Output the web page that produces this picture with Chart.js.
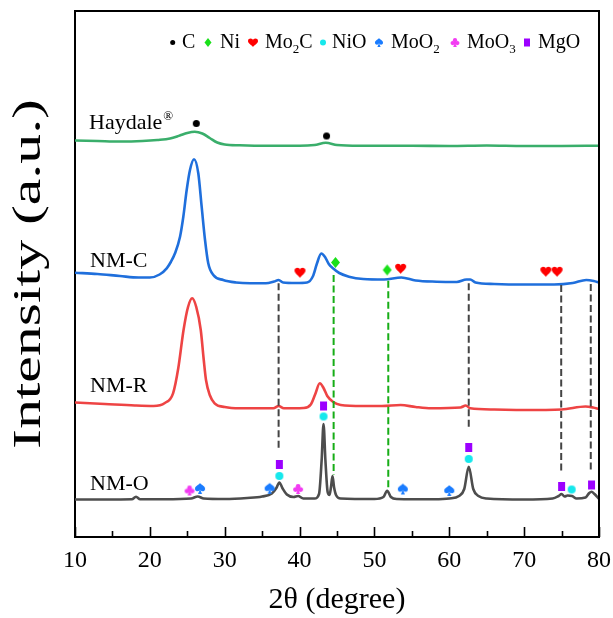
<!DOCTYPE html>
<html><head><meta charset="utf-8">
<script src="https://cdn.jsdelivr.net/npm/chart.js@4.4.1/dist/chart.umd.min.js"></script>
<style>html,body{margin:0;padding:0;background:#fff;}canvas{display:block;}</style>
</head><body>
<canvas id="c" width="613" height="618"></canvas>
<script>
// ---------- data (2θ in degrees, intensity in a.u., curves offset) ----------
const xTickValues = [10, 20, 30, 40, 50, 60, 70, 80];

const haydaleTheta = [10, 13, 16, 19, 21, 22.7, 24, 25, 26, 27, 28, 29, 30, 32, 36, 40, 42, 43.5, 45, 48, 55, 60, 65, 70, 75, 80];
const haydaleInt   = [396.5, 396, 395.5, 396, 397, 398.5, 401.5, 404, 405.2, 403.5, 399, 394.5, 392.5, 391.7, 391.2, 391.2, 392, 394.2, 392, 391.2, 391.2, 391, 391.5, 391, 391, 391.3];

const nmcTheta = [10, 13, 16, 18.5, 20, 21.3, 22.25, 22.8, 23.36, 24.03, 24.47, 24.92, 25.36, 25.9, 26.47, 26.92, 27.37, 27.8, 28.48, 29.8, 31.5, 33.4, 35.5, 36.6, 37.2, 37.8, 39.5, 41, 41.8, 42.3, 42.9, 43.4, 43.9, 44.5, 45.3, 46.6, 48.5, 51.3, 53.6, 55.5, 58.3, 61, 62.3, 62.8, 63.5, 66, 70, 74, 76.5, 78.3, 79.3, 80];
const nmcInt   = [264.3, 263, 261, 259.5, 259.5, 262.5, 268.7, 275, 283.7, 300.3, 320.3, 347, 367, 377.7, 363.7, 330.3, 297, 273.7, 262, 257, 254.5, 253.7, 253.7, 255.5, 257, 254.5, 254, 254.5, 261, 273, 283.5, 280, 273, 268.5, 264, 260.3, 258, 257.5, 259.5, 256.5, 255.3, 255, 257.5, 257.5, 254.5, 253, 252.5, 252.5, 254, 257, 256, 254.5];

const nmrTheta = [10, 14, 18, 20.5, 22, 23.1, 23.8, 24.5, 25.1, 25.65, 26.2, 26.8, 27.2, 27.5, 28, 28.65, 30, 32, 36.5, 37.2, 37.9, 40.5, 41.5, 42.1, 42.7, 43.2, 43.7, 44.5, 45.5, 48.4, 51, 53.5, 55.5, 57.6, 61.5, 62.2, 62.8, 66, 70, 75, 78.2, 79.2, 80];
const nmrInt   = [134.5, 133, 131.5, 131, 134, 143.7, 169, 207, 230, 238.7, 230, 207, 177, 157, 142, 133.7, 130, 128.7, 128.7, 131, 128.7, 129, 132.5, 143, 153.7, 149, 141, 135, 132, 131, 131, 132, 130, 128.7, 129.5, 131.5, 128.7, 127.5, 127, 127.5, 130.5, 129.5, 128];

const nmoTheta = [10, 14, 17.6, 18.15, 18.7, 22, 25.5, 26.4, 27.2, 30, 33, 35, 36.3, 36.9, 37.3, 37.7, 38.3, 39.2, 39.8, 40.5, 42, 42.6, 42.95, 43.2, 43.45, 43.75, 44.0, 44.2, 44.4, 44.6, 44.9, 45.5, 50, 51.2, 51.7, 52.2, 53, 58, 60, 61.3, 62.0, 62.6, 63.2, 63.9, 65, 70, 73.8, 74.6, 75.0, 75.4, 75.8, 76.4, 77, 78.2, 78.7, 79.0, 79.4, 80];
const nmoInt   = [37.5, 37.5, 37.7, 40.3, 37.7, 37.7, 38.5, 40.5, 38.5, 38, 39, 40.5, 43.5, 49, 54.5, 49, 42.5, 40, 41, 38.5, 38.5, 43, 77, 113, 77, 45, 42, 50, 61, 50, 41.5, 38.5, 38, 40, 46.3, 40, 38, 37.7, 38.5, 41, 48, 70.3, 48, 41, 38.5, 37.5, 38.5, 41, 43, 40.5, 41.5, 41, 38.5, 39.5, 44, 45.3, 43, 38];

// phase markers
const cTheta    = [26.2, 43.6];                   const cInt    = [413.5, 401];
const niTheta   = [44.8, 51.7];                   const niInt   = [274.5, 267];
const mo2cTheta = [40.05, 53.5, 72.9, 74.4];      const mo2cInt = [264.5, 268.5, 265.5, 265.5];
const nioTheta  = [37.3, 43.2, 62.6, 76.35];      const nioInt  = [61, 120.5, 78, 47.5];
const moo2Theta = [26.7, 36.0, 53.8, 60.0];       const moo2Int = [48.5, 48.7, 48, 46.5];
const moo3Theta = [25.3, 39.8];                   const moo3Int = [46.5, 48];
const mgoTheta  = [37.3, 43.2, 62.6, 75.0, 79.0]; const mgoInt  = [72.5, 131, 89.5, 50.5, 52];

// reference (dashed) lines
const dashTheta  = [37.2, 62.6, 74.95, 78.9];
const dashTop    = [253.7, 253.7, 252, 253];
const dashBottom = [87, 110.3, 65.3, 65.3];
const niDashTheta  = [44.55, 51.85];
const niDashTop    = [262, 256.3];
const niDashBottom = [62, 47.7];

const curveLabels = ['Haydale', 'NM-C', 'NM-R', 'NM-O'];
const legendNames = [['C',''], ['Ni',''], ['Mo','2','C'], ['NiO',''], ['MoO','2'], ['MoO','3'], ['MgO','']];
const xTitle = '2θ (degree)';
const yTitle = 'Intensity (a.u.)';

// ---------- styling ----------
const SERIF = 'Liberation Serif, Times New Roman, serif';
const COL = { hay:'#3aae6b', nmc:'#1f6fdc', nmr:'#ee4444', nmo:'#4d4d4d',
  C:'#000000', Ni:'#19e019', Mo2C:'#ff0000', NiO:'#16e8ec', MoO2:'#1a7cff', MoO3:'#f23cf2', MgO:'#9c00ff',
  dash:'#444444', niDash:'#16ad16' };

function drawShape(g, kind, cx, cy, w, h) {
  const x = cx, y = cy - h / 2;
  if (kind === 'circle') { g.beginPath(); g.arc(cx, cy, Math.min(w, h) / 2, 0, 2 * Math.PI); g.fill(); }
  else if (kind === 'square') { g.fillRect(cx - w / 2, cy - h / 2, w, h); }
  else if (kind === 'diamond') { g.beginPath(); g.moveTo(cx, cy - h / 2); g.lineTo(cx + w / 2, cy); g.lineTo(cx, cy + h / 2); g.lineTo(cx - w / 2, cy); g.closePath(); g.fill(); }
  else if (kind === 'heart') {
    g.beginPath();
    g.moveTo(x, y + h * 0.28);
    g.bezierCurveTo(x, y - h * 0.02, x - w / 2, y - h * 0.02, x - w / 2, y + h * 0.32);
    g.bezierCurveTo(x - w / 2, y + h * 0.6, x - w * 0.12, y + h * 0.76, x, y + h);
    g.bezierCurveTo(x + w * 0.12, y + h * 0.76, x + w / 2, y + h * 0.6, x + w / 2, y + h * 0.32);
    g.bezierCurveTo(x + w / 2, y - h * 0.02, x, y - h * 0.02, x, y + h * 0.28);
    g.closePath(); g.fill();
  } else if (kind === 'spade') {
    const bh = h * 0.78;
    g.beginPath();
    g.moveTo(x, y);
    g.bezierCurveTo(x + w * 0.05, y + bh * 0.18, x + w * 0.56, y + bh * 0.35, x + w * 0.5, y + bh * 0.72);
    g.bezierCurveTo(x + w * 0.46, y + bh * 1.05, x + w * 0.06, y + bh * 1.02, x, y + bh * 0.76);
    g.bezierCurveTo(x - w * 0.06, y + bh * 1.02, x - w * 0.46, y + bh * 1.05, x - w * 0.5, y + bh * 0.72);
    g.bezierCurveTo(x - w * 0.56, y + bh * 0.35, x - w * 0.05, y + bh * 0.18, x, y);
    g.closePath(); g.fill();
    g.beginPath(); g.moveTo(x, y + bh * 0.7); g.lineTo(x + w * 0.2, y + h); g.lineTo(x - w * 0.2, y + h); g.closePath(); g.fill();
  } else if (kind === 'club') {
    const r = w * 0.24;
    [[x, y + r], [x - w / 2 + r, y + h * 0.56], [x + w / 2 - r, y + h * 0.56]].forEach(([px, py]) => {
      g.beginPath(); g.arc(px, py, r, 0, 2 * Math.PI); g.fill();
    });
    g.beginPath(); g.arc(x, y + h * 0.5, r * 0.7, 0, 2 * Math.PI); g.fill();
    g.beginPath(); g.moveTo(x, y + h * 0.45); g.lineTo(x + w * 0.2, y + h); g.lineTo(x - w * 0.2, y + h); g.closePath(); g.fill();
  }
}
function glyph(kind, color, w, h) {
  const c = document.createElement('canvas');
  c.width = w + 2; c.height = h + 2;
  const g = c.getContext('2d');
  g.fillStyle = color;
  drawShape(g, kind, (w + 2) / 2, (h + 2) / 2, w, h);
  return c;
}

const pts = (xs, ys) => xs.map((x, i) => ({ x, y: ys[i] }));
function curve(xs, ys, color) {
  return { data: pts(xs, ys), borderColor: color, borderWidth: 2.6, pointRadius: 0, fill: false,
    cubicInterpolationMode: 'monotone', order: 3 };
}
function markers(xs, ys, img) {
  return { data: pts(xs, ys), showLine: false, pointStyle: img, pointRadius: 5, order: 0 };
}
function vline(x, top, bottom, color) {
  return { data: [{ x, y: top }, { x, y: bottom }], borderColor: color, borderWidth: 2, borderDash: [7, 3.5],
    pointRadius: 0, fill: false, order: 1 };
}

const datasets = [
  curve(haydaleTheta, haydaleInt, COL.hay),
  curve(nmcTheta, nmcInt, COL.nmc),
  curve(nmrTheta, nmrInt, COL.nmr),
  curve(nmoTheta, nmoInt, COL.nmo),
];
dashTheta.forEach((t, i) => datasets.push(vline(t, dashTop[i], dashBottom[i], COL.dash)));
niDashTheta.forEach((t, i) => datasets.push(vline(t, niDashTop[i], niDashBottom[i], COL.niDash)));
datasets.push(markers(cTheta, cInt, glyph('circle', COL.C, 7, 7)));
datasets.push(markers(niTheta, niInt, glyph('diamond', COL.Ni, 9, 11)));
datasets.push(markers(mo2cTheta, mo2cInt, glyph('heart', COL.Mo2C, 11, 11)));
datasets.push(markers(mgoTheta, mgoInt, glyph('square', COL.MgO, 7, 9)));
datasets.push(markers(nioTheta, nioInt, glyph('circle', COL.NiO, 8, 8)));
datasets.push(markers(moo2Theta, moo2Int, glyph('spade', COL.MoO2, 10, 11)));
datasets.push(markers(moo3Theta, moo3Int, glyph('club', COL.MoO3, 10, 10)));

const decor = {
  id: 'decor',
  afterDraw(chart) {
    const { ctx, chartArea: a, scales: { x } } = chart;
    ctx.save();
    // frame (top & right)
    ctx.strokeStyle = '#000'; ctx.lineWidth = 2;
    ctx.beginPath(); ctx.moveTo(a.left, a.top); ctx.lineTo(a.right, a.top); ctx.lineTo(a.right, a.bottom); ctx.stroke();
    // inward ticks
    ctx.lineWidth = 1.6;
    for (let v = 10; v <= 80; v += 5) {
      const px = Math.round(x.getPixelForValue(v)) + 0.5;
      const len = (v % 10 === 0) ? 10 : 6;
      ctx.beginPath(); ctx.moveTo(px, a.bottom); ctx.lineTo(px, a.bottom - len); ctx.stroke();
    }
    // y-axis title
    ctx.save();
    ctx.fillStyle = '#000';
    ctx.font = '40px ' + SERIF;
    ctx.textAlign = 'center'; ctx.textBaseline = 'middle';
    ctx.translate(29, (a.top + a.bottom) / 2);
    ctx.rotate(-Math.PI / 2);
    const tw = ctx.measureText(yTitle).width;
    ctx.scale(350 / tw, 1);
    ctx.fillText(yTitle, 0, 0);
    ctx.restore();
    // curve labels
    ctx.fillStyle = '#000';
    ctx.textBaseline = 'alphabetic'; ctx.textAlign = 'left';
    ctx.font = '22px ' + SERIF;
    ctx.fillText(curveLabels[0], 89, 128.5);
    const hw = ctx.measureText(curveLabels[0]).width;
    ctx.font = '13px ' + SERIF;
    ctx.fillText('®', 89 + hw + 1, 119.5);
    ctx.font = '22px ' + SERIF;
    ctx.fillText(curveLabels[1], 90, 266.5);
    ctx.fillText(curveLabels[2], 90, 391.5);
    ctx.fillText(curveLabels[3], 90, 490);
    // legend
    const leg = [
      ['circle', COL.C, 5, 5, 172.7, 182],
      ['diamond', COL.Ni, 7, 9, 208, 220],
      ['heart', COL.Mo2C, 10, 9, 253, 265],
      ['circle', COL.NiO, 6, 6, 323, 332],
      ['spade', COL.MoO2, 8, 9, 379, 391],
      ['club', COL.MoO3, 9, 9, 455, 467],
      ['square', COL.MgO, 6, 8, 527, 538],
    ];
    leg.forEach((L, i) => {
      ctx.fillStyle = L[1];
      drawShape(ctx, L[0], L[4], 42.5, L[2], L[3]);
      ctx.fillStyle = '#000';
      let tx = L[5];
      const parts = legendNames[i];
      ctx.font = '20px ' + SERIF;
      ctx.fillText(parts[0], tx, 48.3); tx += ctx.measureText(parts[0]).width;
      if (parts[1]) { ctx.font = '13px ' + SERIF; ctx.fillText(parts[1], tx, 53); tx += ctx.measureText(parts[1]).width; }
      if (parts[2]) { ctx.font = '20px ' + SERIF; ctx.fillText(parts[2], tx, 48.3); }
    });
    ctx.restore();
  }
};

new Chart(document.getElementById('c'), {
  type: 'line',
  data: { datasets },
  options: {
    responsive: false, animation: false, devicePixelRatio: 1,
    layout: { padding: { top: 11, right: 14, left: 0, bottom: 0 } },
    plugins: { legend: { display: false }, tooltip: { enabled: false } },
    scales: {
      x: {
        type: 'linear', min: 10, max: 80,
        afterFit: s => { s.height = 81; s.paddingLeft = 0; s.paddingRight = 0; },
        afterBuildTicks: s => { s.ticks = xTickValues.map(v => ({ value: v })); },
        ticks: { font: { family: SERIF, size: 24 }, color: '#000', padding: 9, maxRotation: 0, autoSkip: false },
        grid: { display: false, drawTicks: false },
        border: { display: true, color: '#000', width: 2 },
        title: { display: true, text: xTitle, font: { family: SERIF, size: 30 }, color: '#000', padding: { top: 0, bottom: 0 } }
      },
      y: {
        type: 'linear', min: 0, max: 526,
        afterFit: s => { s.width = 75; s.paddingTop = 0; s.paddingBottom = 0; },
        ticks: { display: false },
        grid: { display: false, drawTicks: false },
        border: { display: true, color: '#000', width: 2 },
        title: { display: false }
      }
    }
  },
  plugins: [decor]
});
</script>
</body></html>
